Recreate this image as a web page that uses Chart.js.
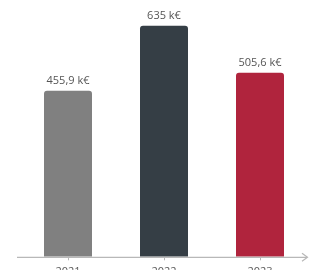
<!DOCTYPE html>
<html>
<head>
<meta charset="utf-8">
<script src="https://cdn.jsdelivr.net/npm/chart.js@4/dist/chart.umd.min.js"></script>
<style>
html,body{margin:0;padding:0;background:#fff;overflow:hidden;width:315px;height:270px;}
canvas{display:block;}
</style>
</head>
<body>
<canvas id="c" width="315" height="286"></canvas>
<script>
const categories = ["2021", "2022", "2023"];
const values = [455.9, 635, 505.6];
const valueLabels = ["455,9 k€", "635 k€", "505,6 k€"];
const barColors = ["#808080", "#353e45", "#b0243d"];

const axisPlugin = {
  id: 'axisArrow',
  afterDatasetsDraw(chart) {
    const ctx = chart.ctx;
    const y = chart.scales.y.getPixelForValue(0) + 0.5;
    ctx.save();
    ctx.strokeStyle = '#b8b8b8';
    ctx.lineWidth = 1.2;
    ctx.beginPath();
    ctx.moveTo(17, y);
    ctx.lineTo(307, y);
    ctx.stroke();
    ctx.beginPath();
    ctx.moveTo(302, y - 4);
    ctx.lineTo(307.5, y);
    ctx.lineTo(302, y + 4);
    ctx.stroke();
    const xs = chart.scales.x;
    ctx.lineWidth = 1;
    categories.forEach((c, i) => {
      const x = Math.round(xs.getPixelForValue(i)) + 0.5;
      ctx.beginPath();
      ctx.moveTo(x, y);
      ctx.lineTo(x, y + 3);
      ctx.stroke();
    });
    const meta = chart.getDatasetMeta(0);
    ctx.fillStyle = '#555555';
    ctx.font = '11px "Open Sans"';
    ctx.textAlign = 'center';
    ctx.textBaseline = 'bottom';
    meta.data.forEach((bar, i) => {
      ctx.fillText(valueLabels[i], bar.x, bar.y - 4);
    });
    ctx.restore();
  }
};

new Chart(document.getElementById('c'), {
  type: 'bar',
  data: {
    labels: categories,
    datasets: [{
      data: values,
      backgroundColor: barColors,
      borderRadius: 3,
      borderSkipped: 'start',
      barPercentage: 0.5,
      categoryPercentage: 1
    }]
  },
  options: {
    responsive: false,
    animation: false,
    layout: { padding: { left: 20, right: 7, top: 2, bottom: 0 } },
    plugins: { legend: { display: false }, tooltip: { enabled: false } },
    scales: {
      x: {
        grid: { display: false, drawTicks: false },
        border: { display: false },
        ticks: { color: '#595959', font: { family: 'Open Sans', size: 11 }, padding: 8 }
      },
      y: {
        display: false,
        min: 0,
        max: 700
      }
    }
  },
  plugins: [axisPlugin]
});
</script>
</body>
</html>
